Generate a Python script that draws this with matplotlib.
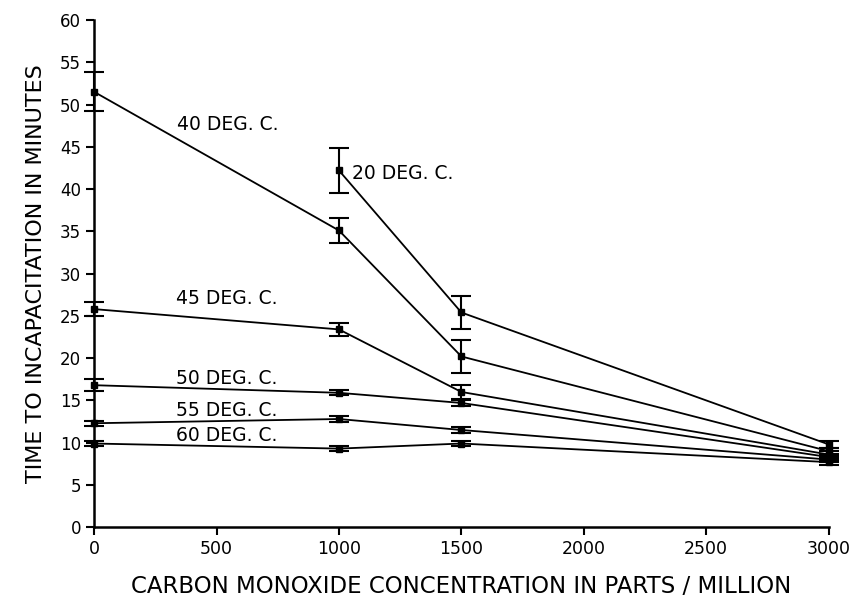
import numpy as np
from matplotlib import pyplot as plt

# CO concentration (ppm) for each temperature series
x_20 = [1000, 1500, 3000]
y_20 = [42.2, 25.4, 9.8]
e_20 = [2.7, 2.0, 0.4]

x_all = [0, 1000, 1500, 3000]
y_40 = [51.5, 35.1, 20.2, 9.0]
e_40 = [2.3, 1.5, 1.9, 0.4]
y_45 = [25.8, 23.4, 16.0, 8.6]
e_45 = [0.8, 0.8, 0.8, 0.4]
y_50 = [16.8, 15.9, 14.7, 8.3]
e_50 = [0.7, 0.3, 0.4, 0.4]
y_55 = [12.3, 12.8, 11.5, 8.0]
e_55 = [0.3, 0.3, 0.3, 0.3]
y_60 = [9.9, 9.3, 9.9, 7.7]
e_60 = [0.3, 0.3, 0.3, 0.3]

labels = ["20 DEG. C.", "40 DEG. C.", "45 DEG. C.", "50 DEG. C.", "55 DEG. C.", "60 DEG. C."]
label_pos = [(1055, 41.9), (340, 47.6), (335, 27.0), (335, 17.6), (335, 13.8), (335, 10.9)]

plt.rcParams['font.family'] = ['DejaVu Sans']

fig = plt.figure(figsize=(8.56, 6.06), dpi=100)
ax = fig.add_axes([0.110, 0.130, 0.858, 0.837])

series = [(x_20, y_20, e_20)] + [(x_all, y, e) for y, e in
                                  [(y_40, e_40), (y_45, e_45), (y_50, e_50), (y_55, e_55), (y_60, e_60)]]
for xs, ys, es in series:
    ax.errorbar(xs, ys, yerr=es, color='black', lw=1.3, marker='s', ms=4,
                capsize=7, capthick=1.5, elinewidth=1.5, clip_on=False, zorder=3)

for txt, (lx, ly) in zip(labels, label_pos):
    ax.text(lx, ly, txt, fontsize=13.5, va='center', ha='left')

ax.set_xlim(0, 3000)
ax.set_ylim(0, 60)
ax.set_xticks([0, 500, 1000, 1500, 2000, 2500, 3000])
ax.set_yticks(np.arange(0, 61, 5))
ax.spines['top'].set_visible(False)
ax.spines['right'].set_visible(False)
ax.spines['left'].set_linewidth(1.8)
ax.spines['bottom'].set_linewidth(1.8)
ax.tick_params(direction='out', length=6, width=1.5)
ax.tick_params(axis='x', labelsize=12.5)
ax.tick_params(axis='y', labelsize=12)
ax.set_xlabel("CARBON MONOXIDE CONCENTRATION IN PARTS / MILLION", fontsize=16.5, labelpad=12)
ax.set_ylabel("TIME TO INCAPACITATION IN MINUTES", fontsize=16, labelpad=10)

fig.savefig("out.png", dpi=100)
